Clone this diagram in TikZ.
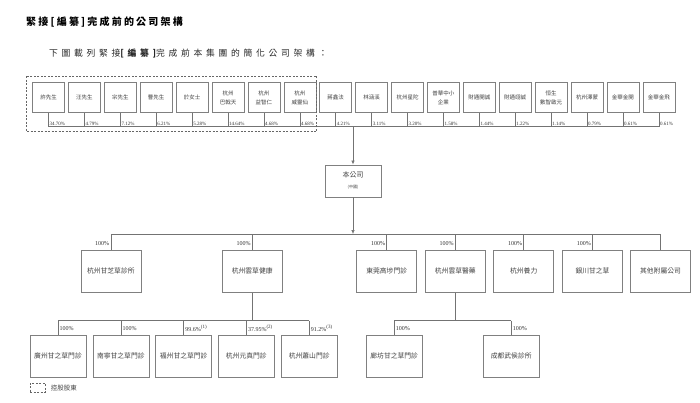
\documentclass[tikz,border=0pt]{standalone}
\usepackage{fontspec}
\setmainfont{Liberation Serif}
\newfontfamily\cjk{Noto Sans CJK TC}
\newfontfamily\cjkA[LetterSpace=22]{Noto Sans CJK TC}
\newfontfamily\cjkB[LetterSpace=42]{Noto Sans CJK TC}
\usetikzlibrary{arrows.meta}
\begin{document}
\begin{tikzpicture}[x=1pt,y=-1pt,
  conn/.style={draw=black!55, line width=0.6pt},
  arr/.style={conn, -{Latex[length=4pt,width=3.5pt]}},
  ctrl/.style={draw=black!60, line width=0.6pt, dash pattern=on 2pt off 1.5pt},
  tbox/.style={draw=black!50, line width=0.6pt, minimum width=32pt, minimum height=30pt, inner sep=0pt, font=\cjk\fontsize{5.5}{9}\selectfont, text=black!75, align=center},
  mbox/.style={draw=black!50, line width=0.6pt, minimum width=60pt, minimum height=42pt, inner sep=0pt, font=\cjk\fontsize{6.8}{9}\selectfont, text=black!75, align=center},
  bbox/.style={draw=black!50, line width=0.6pt, minimum width=56pt, minimum height=42pt, inner sep=0pt, font=\cjk\fontsize{6.8}{9}\selectfont, text=black!75, align=center},
  pct/.style={inner sep=0pt, font=\fontsize{5}{6}\selectfont, text=black!80},
  pctm/.style={inner sep=0pt, font=\fontsize{6}{7}\selectfont, text=black!80}]
\useasboundingbox (0,0) rectangle (700,402);
% titles
\node[anchor=west, inner sep=0pt, font=\cjkA\bfseries\fontsize{10}{12}\selectfont] (title) at (26,22) {緊接[編纂]完成前的公司架構};
\node[anchor=west, inner sep=0pt, font=\cjkB\fontsize{8.8}{10}\selectfont, text=black!85] (sub) at (49,53) {下圖載列緊接{\bfseries[編纂]}完成前本集團的簡化公司架構：};
% top row
\coordinate (hl) at (0,126.7);
\foreach \i/\t/\p in {1/許先生/34.70\%, 2/汪先生/4.79\%, 3/宗先生/7.12\%, 4/曹先生/6.21\%, 5/於女士/5.28\%, 6/{杭州\\巴戟天}/14.64\%, 7/{杭州\\益智仁}/4.68\%, 8/{杭州\\威靈仙}/4.68\%, 9/蔣鑫法/4.21\%, 10/林涵溪/3.11\%, 11/杭州星陀/3.20\%, 12/{普華中小\\企業}/1.58\%, 13/財通開誠/1.44\%, 14/財通翊誠/1.22\%, 15/{恒生\\數智啟元}/1.14\%, 16/杭州澤蒙/0.79\%, 17/金華金開/0.61\%, 18/金華金飛/0.61\%}{
  \node[tbox] (t\i) at ({48.5+35.9*(\i-1)},97.7) {\t};
  \draw[conn] (t\i.south) -- (t\i.south |- hl) coordinate (h\i);
  \node[pct, anchor=south west] (p\i) at ([xshift=1pt, yshift=1.2pt]h\i) {\p};
}
\draw[conn] (h1) -- (h18);
\draw[ctrl] (26.7,76) rectangle (316.7,131.7);
% company
\node[draw=black!50, line width=0.6pt, minimum width=56pt, minimum height=32pt, inner sep=0pt, align=center, text=black!75] (co) at (353,180.8) {{\cjk\fontsize{7}{9}\selectfont 本公司}\\[-1pt]{\cjk\fontsize{4}{5}\selectfont (中國)}};
\coordinate (ta) at (353,126.7);
\draw[arr] (ta) -- (co.north);
% level 2
\coordinate (l2) at (0,234);
\node[mbox] (A) at (110.8,271.2) {杭州甘芝草診所};
\node[mbox] (B) at (252.2,271.2) {杭州雲草健康};
\node[mbox] (C) at (386.7,271.2) {東莞高埗門診};
\node[mbox] (D) at (455.3,271.2) {杭州雲草醫藥};
\node[mbox] (E) at (523.7,271.2) {杭州養力};
\node[mbox] (F) at (592.5,271.2) {銀川甘之草};
\node[mbox] (G) at (660.5,271.2) {其他附屬公司};
\draw[arr] (co.south) -- (co.south |- l2);
\draw[conn] (A.north |- l2) -- (G.north |- l2);
\foreach \n in {A,B,C,D,E,F}{
  \draw[conn] (\n.north |- l2) -- (\n.north);
  \node[pctm, anchor=east] at ([xshift=-1.5pt, yshift=6pt]\n.north) {100\%};
}
\draw[conn] (G.north |- l2) -- (G.north);
% level 3
\coordinate (l3) at (0,320.7);
\node[bbox] (b1) at (58,355.8) {廣州甘之草門診};
\node[bbox] (b2) at (120.8,355.8) {南寧甘之草門診};
\node[bbox] (b3) at (183.7,355.8) {福州甘之草門診};
\node[bbox] (b4) at (246.3,355.8) {杭州元真門診};
\node[bbox] (b5) at (309.2,355.8) {杭州蕭山門診};
\node[bbox] (d1) at (394.2,355.8) {廊坊甘之草門診};
\node[bbox] (d2) at (511.2,355.8) {成都武侯診所};
\draw[conn] (B.south) -- (B.south |- l3);
\draw[conn] (b1.north |- l3) -- (b5.north |- l3);
\draw[conn] (D.south) -- (D.south |- l3);
\draw[conn] (d1.north |- l3) -- (d2.north |- l3);
\foreach \n/\p in {b1/100\%, b2/100\%, b3/{99.6\%\textsuperscript{(1)}}, b4/{37.95\%\textsuperscript{(2)}}, b5/{91.2\%\textsuperscript{(3)}}, d1/100\%, d2/100\%}{
  \draw[conn] (\n.north |- l3) -- (\n.north);
  \node[pctm, anchor=west] at ([xshift=1.5pt, yshift=6pt]\n.north) {\p};
}
% legend
\node[ctrl, minimum width=15pt, minimum height=9pt, inner sep=0pt] (lg) at (37.5,387.5) {};
\node[anchor=west, inner sep=0pt, font=\cjk\fontsize{6.5}{8}\selectfont, text=black!75] (lgt) at (50.7,387.8) {控股股東};
\end{tikzpicture}
\end{document}
